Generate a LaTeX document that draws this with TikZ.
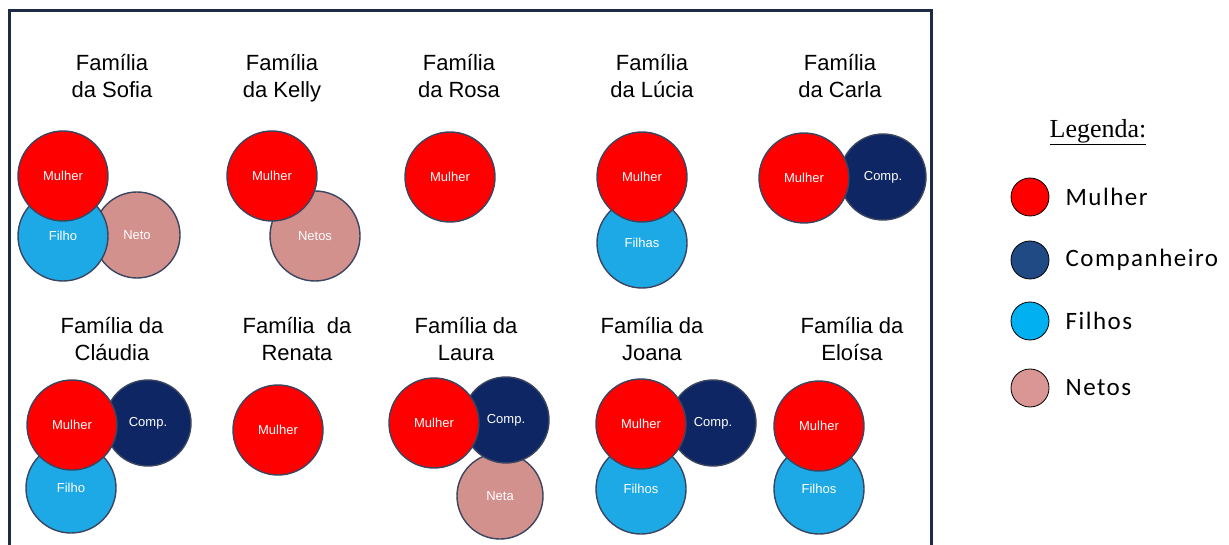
\documentclass[tikz,border=0pt]{standalone}
\usepackage{fontspec}
\setmainfont{Liberation Sans}
\newfontfamily\legfont[LetterSpace=6]{Carlito}
\newfontfamily\legserif{Liberation Serif}
\usepackage{xcolor}
\usetikzlibrary{positioning}
\definecolor{mulher}{HTML}{FF0000}
\definecolor{comp}{HTML}{0E2663}
\definecolor{filho}{HTML}{1DA9E6}
\definecolor{neto}{HTML}{D3918E}
\definecolor{contorno}{HTML}{3A4560}
\definecolor{moldura}{HTML}{1E2B45}
\definecolor{compleg}{HTML}{1F4A84}
\definecolor{filholeg}{HTML}{00B0F0}
\definecolor{netoleg}{HTML}{D99694}

\begin{document}
\begin{tikzpicture}[
  x=1pt, y=-1pt,
  fam/.style ={align=center, anchor=north, inner sep=0pt,
               font=\fontsize{22}{27}\selectfont},
  bola/.style={circle, draw=contorno, line width=1.4pt, minimum size=90pt,
               inner sep=0pt, text=white, font=\fontsize{13}{15}\selectfont},
  mu/.style  ={bola, fill=mulher},
  co/.style  ={bola, fill=comp, minimum size=86pt},
  fi/.style  ={bola, fill=filho},
  ne/.style  ={bola, fill=neto, minimum size=86pt},
  leg/.style ={circle, draw=black, line width=0.8pt, minimum size=38pt, inner sep=0pt},
  legtxt/.style={anchor=west, inner sep=0pt, font=\legfont\fontsize{25}{30}\selectfont}
]
\useasboundingbox (0,0) rectangle (1229,545);
\fill[white] (0,0) rectangle (1229,545);
\draw[moldura, line width=3pt] (9,548) -- (9,11) -- (931,11) -- (931,548);

% titulos
\node[fam] (tSofia)   at (112,54)  {Família\\da Sofia};
\node[fam] (tKelly)   at (282,54)  {Família\\da Kelly};
\node[fam] (tRosa)    at (459,54)  {Família\\da Rosa};
\node[fam] (tLucia)   at (652,54)  {Família\\da Lúcia};
\node[fam] (tCarla)   at (840,54)  {Família\\da Carla};
\node[fam] (tClaudia) at (112,317) {Família da\\Cláudia};
\node[fam] (tRenata)  at (297,317) {Família\ \ da\\Renata};
\node[fam] (tLaura)   at (466,317) {Família da\\Laura};
\node[fam] (tJoana)   at (652,317) {Família da\\Joana};
\node[fam] (tEloisa)  at (852,317) {Família da\\Eloísa};

% familias
\node[ne] (sofiaN) at (137,235) {Neto};
\node[fi] (sofiaF) at (63,236)  {Filho};
\node[mu] (sofiaM) at (63,176)  {Mulher};

\node[ne, minimum size=90pt] (kellyN) at (315,236) {Netos};
\node[mu] (kellyM) at (272,176) {Mulher};

\node[mu] (rosaM) at (450,177) {Mulher};

\node[fi] (luciaF) at (642,243) {Filhas};
\node[mu] (luciaM) at (642,177) {Mulher};

\node[co] (carlaC) at (883,177) {Comp.};
\node[mu] (carlaM) at (804,178) {Mulher};

\node[co] (claudiaC) at (148,423) {Comp.};
\node[fi] (claudiaF) at (71,488)  {Filho};
\node[mu] (claudiaM) at (72,425)  {Mulher};

\node[mu] (renataM) at (278,430) {Mulher};

\node[ne] (lauraN) at (500,496) {Neta};
\node[co] (lauraC) at (506,420) {Comp.};
\node[mu] (lauraM) at (434,423) {Mulher};

\node[co] (joanaC) at (713,423) {Comp.};
\node[fi] (joanaF) at (641,489) {Filhos};
\node[mu] (joanaM) at (641,424) {Mulher};

\node[fi] (eloisaF) at (819,489) {Filhos};
\node[mu] (eloisaM) at (819,426) {Mulher};

% legenda
\node[inner sep=0pt, font=\legserif\fontsize{26}{30}\selectfont] (legTit) at (1098,132) {\underline{Legenda:}};
\node[leg, fill=mulher]   (lgM) at (1030,197) {};
\node[leg, fill=compleg]  (lgC) at (1030,260) {};
\node[leg, fill=filholeg] (lgF) at (1030,321) {};
\node[leg, fill=netoleg]  (lgN) at (1030,388) {};
\node[legtxt, right=16pt of lgM] (lgMt) {Mulher};
\node[legtxt, right=16pt of lgC] (lgCt) {Companheiro};
\node[legtxt, right=16pt of lgF] (lgFt) {Filhos};
\node[legtxt, right=16pt of lgN] (lgNt) {Netos};
\end{tikzpicture}
\end{document}
